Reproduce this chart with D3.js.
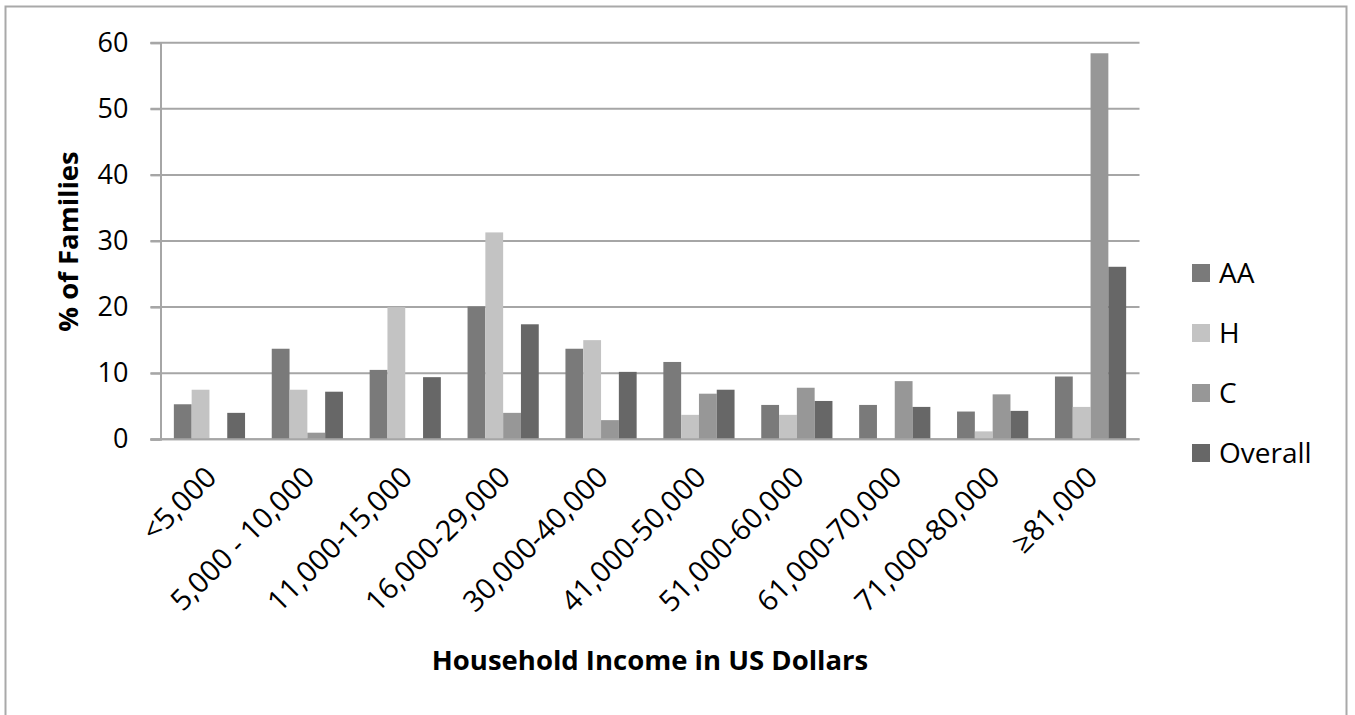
<!DOCTYPE html>
<html>
<head>
<meta charset="utf-8">
<script src="https://cdn.jsdelivr.net/npm/d3@7"></script>
<style>
  html, body { margin: 0; padding: 0; background: #fff; }
  svg { display: block; font-family: "Open Sans", "DejaVu Sans", sans-serif; }
</style>
</head>
<body>
<svg id="chart" width="1355" height="715"></svg>
<script>
// ---- data ----
const categories = ["<5,000", "5,000 - 10,000", "11,000-15,000", "16,000-29,000", "30,000-40,000",
  "41,000-50,000", "51,000-60,000", "61,000-70,000", "71,000-80,000", "\u226581,000"];
const seriesNames = ["AA", "H", "C", "Overall"];
const valuesAA = [5.3, 13.7, 10.5, 20.1, 13.7, 11.7, 5.2, 5.2, 4.2, 9.5];
const valuesH = [7.5, 7.5, 20.0, 31.3, 15.0, 3.7, 3.7, 0, 1.2, 4.9];
const valuesC = [0, 1.0, 0, 4.0, 2.9, 6.9, 7.8, 8.8, 6.8, 58.4];
const valuesOverall = [4.0, 7.2, 9.4, 17.4, 10.2, 7.5, 5.8, 4.9, 4.3, 26.1];
const yTicks = [0, 10, 20, 30, 40, 50, 60];
const colors = ["#7a7a7a", "#c3c3c3", "#979797", "#676767"];
const xTitle = "Household Income in US Dollars";
const yTitle = "% of Families";

const seriesValues = [valuesAA, valuesH, valuesC, valuesOverall];

// ---- layout ----
const svg = d3.select("#chart");
const plot = { left: 160.5, right: 1139.5, top: 42.7, bottom: 439.3 };

// outer border
svg.append("rect").attr("x", 5.5).attr("y", 6.5).attr("width", 1341).attr("height", 740)
  .attr("fill", "none").attr("stroke", "#a9a9a9").attr("stroke-width", 2);

const gap = 1.5, nS = seriesNames.length;
const p = gap / (nS + gap);
const x0 = d3.scaleBand().domain(categories).range([plot.left, plot.right])
  .paddingInner(p).paddingOuter(p / 2);
const x1 = d3.scaleBand().domain(seriesNames).range([0, x0.bandwidth()]);
const y = d3.scaleLinear().domain([0, 60]).range([plot.bottom, plot.top]);

const gridColor = "#a6a6a6";

// gridlines
svg.append("g").selectAll("line").data(yTicks).join("line")
  .attr("x1", plot.left - 10).attr("x2", plot.right)
  .attr("y1", d => y(d)).attr("y2", d => y(d))
  .attr("stroke", gridColor).attr("stroke-width", 2);

// y axis
const yAxis = svg.append("g").attr("transform", `translate(${plot.left},0)`)
  .call(d3.axisLeft(y).tickValues(yTicks).tickSize(10).tickPadding(22).tickFormat(d3.format("d")));
yAxis.select(".domain").attr("stroke", gridColor).attr("stroke-width", 2);
yAxis.selectAll(".tick line").attr("stroke", gridColor).attr("stroke-width", 2);
yAxis.selectAll(".tick text").attr("font-size", 27).attr("fill", "#000")
  .attr("font-family", "'Open Sans', sans-serif");

// bars
const groups = svg.append("g").selectAll("g").data(categories).join("g")
  .attr("transform", d => `translate(${x0(d)},0)`);
groups.selectAll("rect")
  .data((c, i) => seriesNames.map((s, k) => ({ s, k, v: seriesValues[k][i] })))
  .join("rect")
  .filter(d => d.v > 0)
  .attr("x", d => x1(d.s))
  .attr("width", x1.bandwidth())
  .attr("y", d => y(d.v))
  .attr("height", d => y(0) - y(d.v))
  .attr("fill", d => colors[d.k]);

// x axis baseline
svg.append("line").attr("x1", plot.left - 10).attr("x2", plot.right)
  .attr("y1", y(0)).attr("y2", y(0)).attr("stroke", gridColor).attr("stroke-width", 2);

// x tick labels
svg.append("g").selectAll("text").data(categories).join("text")
  .attr("transform", d => `translate(${x0(d) + x0.bandwidth() / 2 - 6},${plot.bottom + 25}) rotate(-45)`)
  .attr("text-anchor", "end")
  .attr("dy", "0.72em")
  .attr("font-size", 29)
  .attr("fill", "#000")
  .text(d => d);

// axis titles
svg.append("text").attr("x", 650).attr("y", 670).attr("text-anchor", "middle")
  .attr("font-size", 27.5).attr("font-weight", "bold").attr("fill", "#000").text(xTitle);
svg.append("text").attr("transform", `translate(78,${(153 + 330) / 2}) rotate(-90)`)
  .attr("text-anchor", "middle").attr("font-size", 27.5).attr("font-weight", "bold")
  .attr("fill", "#000").text(yTitle);

// legend
const legend = svg.append("g").selectAll("g").data(seriesNames).join("g")
  .attr("transform", (d, i) => `translate(1192,${273 + i * 60})`);
legend.append("rect").attr("x", 0).attr("y", -9).attr("width", 18).attr("height", 18)
  .attr("fill", (d, i) => colors[i]);
legend.append("text").attr("x", 27).attr("y", 0).attr("dy", "0.36em")
  .attr("font-size", 28).attr("fill", "#000").text(d => d);
</script>
</body>
</html>
